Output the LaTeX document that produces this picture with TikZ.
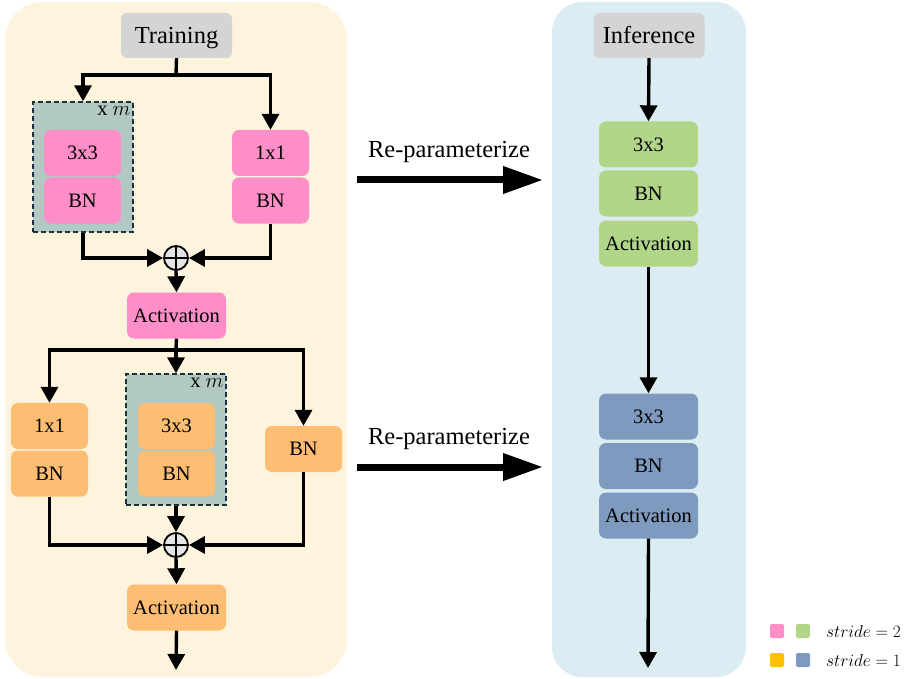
\documentclass[tikz,border=0pt]{standalone}
\usepackage{fontspec}
\setmainfont{Liberation Serif}
\usetikzlibrary{arrows.meta}
\definecolor{panelL}{HTML}{FEF3DC}
\definecolor{panelR}{HTML}{DBEDF3}
\definecolor{titlegray}{HTML}{D4D4D4}
\definecolor{pinkc}{HTML}{FE8EC7}
\definecolor{orangec}{HTML}{FDBE74}
\definecolor{greenc}{HTML}{B1D68A}
\definecolor{bluec}{HTML}{7F9ABF}
\definecolor{dashfill}{HTML}{B2C8C3}
\definecolor{dashline}{HTML}{1A3040}
\definecolor{yellowc}{HTML}{FFC000}
\definecolor{addfill}{HTML}{E4E4E4}
\tikzset{
  panel/.style={rounded corners=38pt, draw=none},
  titlebox/.style={fill=titlegray, rounded corners=6pt, minimum width=111pt, minimum height=45pt, inner sep=0pt, text height=16.2pt, text depth=0pt, font=\fontsize{24.5}{28}\selectfont},
  opbox/.style={rounded corners=7pt, minimum width=77pt, minimum height=46pt, inner sep=0pt, text height=13.6pt, text depth=0pt, font=\fontsize{20.5}{24}\selectfont},
  actbox/.style={opbox, minimum width=99pt},
  repbox/.style={draw=dashline, line width=1.4pt, fill=dashfill, inner sep=0pt, dash pattern=on 5pt off 3pt},
  flow/.style={line width=3.4pt, -{Triangle[length=16pt,width=17pt]}},
  plainflow/.style={line width=3.4pt},
  bigarrow/.style={line width=7pt, -{Triangle[length=40pt,width=26pt]}},
  addnode/.style={circle, draw=black, line width=1.8pt, fill=addfill, minimum size=24pt, inner sep=0pt},
  xm/.style={font=\fontsize{20.5}{24}\selectfont, inner sep=0pt, anchor=north east},
  lgsq/.style={rounded corners=2pt, minimum size=14pt, inner sep=0pt},
  lgtext/.style={anchor=west, inner sep=0pt, font=\fontsize{17.5}{20}\selectfont},
  reptext/.style={font=\fontsize{24.5}{28}\selectfont, inner sep=0pt}
}
\begin{document}
\begin{tikzpicture}[x=1pt,y=-1pt]
\useasboundingbox (0,0) rectangle (915,679);
% panels
\fill[panelL, panel] (5,2) rectangle (347,677);
\fill[panelR, rounded corners=30pt] (552,2) rectangle (746,677);

% ---------- Training ----------
\node[titlebox] (train) at (176.5,35.5) {Training};
\node[repbox, minimum width=100pt, minimum height=130pt] (dash1) at (83,167) {};
\node[xm] (xm1) at ([xshift=-3pt,yshift=-5pt]dash1.north east) {x $m$};
\node[opbox, fill=pinkc] (p3) at (82.5,153) {3x3};
\node[opbox, fill=pinkc] (pbn1) at (82.5,200.5) {BN};
\node[opbox, fill=pinkc] (p1) at (270.5,153) {1x1};
\node[opbox, fill=pinkc] (pbn2) at (270.5,200.5) {BN};
\node[addnode] (add1) at (176,258) {};
\draw[line width=1.3pt] (add1.north) -- (add1.south) (add1.west) -- (add1.east);
\node[actbox, fill=pinkc] (act1) at (176.5,315.5) {Activation};

\coordinate (s1) at (176,75);
\draw[plainflow] (train.south) -- (s1);
\draw[flow] (s1) -| (dash1.north);
\draw[flow] (s1) -| (p1.north);
\draw[flow] (dash1.south) |- (add1.west);
\draw[flow] (pbn2.south) |- (add1.east);
\draw[flow] (add1.south) -- (act1.north);

% second block
\node[opbox, fill=orangec] (o1) at (49.5,426) {1x1};
\node[opbox, fill=orangec] (obn1) at (49.5,473.5) {BN};
\node[repbox, minimum width=100pt, minimum height=131pt] (dash2) at (176,439.5) {};
\node[xm] (xm2) at ([xshift=-3pt,yshift=-5pt]dash2.north east) {x $m$};
\node[opbox, fill=orangec] (o3) at (176.5,426) {3x3};
\node[opbox, fill=orangec] (obn2) at (176.5,473.5) {BN};
\node[opbox, fill=orangec] (obnr) at (303.5,449) {BN};
\node[addnode] (add2) at (176,545) {};
\draw[line width=1.3pt] (add2.north) -- (add2.south) (add2.west) -- (add2.east);
\node[actbox, fill=orangec] (act2) at (176.5,607.5) {Activation};
\coordinate (out1) at (176,670);

\coordinate (s2) at (176,350);
\draw[plainflow] (act1.south) -- (s2);
\draw[flow] (s2) -- (dash2.north);
\draw[flow] (s2) -| (o1.north);
\draw[flow] (s2) -| (obnr.north);
\draw[flow] (obn1.south) |- (add2.west);
\draw[flow] (obnr.south) |- (add2.east);
\draw[flow] (dash2.south) -- (add2.north);
\draw[flow] (add2.south) -- (act2.north);
\draw[flow] (act2.south) -- (out1);

% ---------- Re-parameterize ----------
\node[reptext] (rp1) at (449,152) {Re-parameterize};
\coordinate (ra1) at (357,180);
\coordinate (rb1) at (543,180);
\draw[bigarrow] (ra1) -- (rb1);
\node[reptext] (rp2) at (449,439) {Re-parameterize};
\coordinate (ra2) at (357,467);
\coordinate (rb2) at (543,467);
\draw[bigarrow] (ra2) -- (rb2);

% ---------- Inference ----------
\node[titlebox] (inf) at (649,35.5) {Inference};
\node[actbox, fill=greenc] (g3) at (648.5,144.5) {3x3};
\node[actbox, fill=greenc] (gbn) at (648.5,193.5) {BN};
\node[actbox, fill=greenc] (gact) at (648.5,243.5) {Activation};
\node[actbox, fill=bluec] (b3) at (648.5,416.5) {3x3};
\node[actbox, fill=bluec] (bbn) at (648.5,466) {BN};
\node[actbox, fill=bluec] (bact) at (648.5,515.5) {Activation};
\coordinate (out2) at (648,668);
\draw[flow] (inf.south) -- (g3.north);
\draw[flow] (gact.south) -- (b3.north);
\draw[flow] (bact.south) -- (out2);

% ---------- Legend ----------
\node[lgsq, fill=pinkc] (l1) at (777,631) {};
\node[lgsq, fill=greenc] (l2) at (803,631) {};
\node[lgtext] (lt1) at (826,631) {$stride = 2$};
\node[lgsq, fill=yellowc] (l3) at (777,660) {};
\node[lgsq, fill=bluec] (l4) at (803,660) {};
\node[lgtext] (lt2) at (826,660) {$stride = 1$};
\end{tikzpicture}
\end{document}
